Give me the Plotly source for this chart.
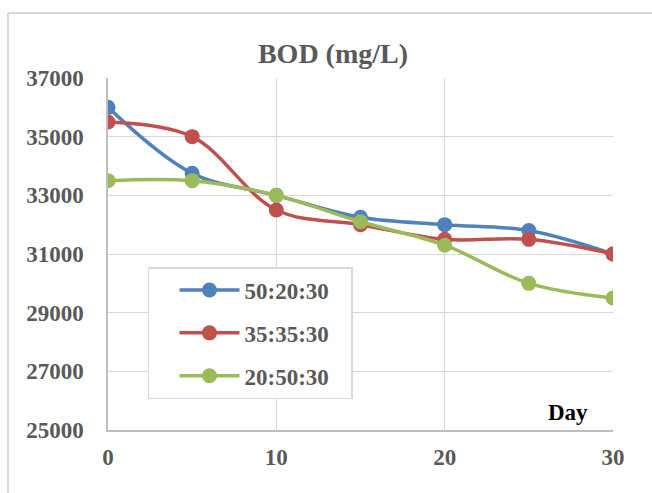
import plotly.graph_objects as go

# BOD over time for three mixing ratios
days = [0, 5, 10, 15, 20, 25, 30]
ratio_50_20_30 = [36000, 33750, 33000, 32250, 32000, 31800, 31000]
ratio_35_35_30 = [35500, 35000, 32500, 32000, 31500, 31500, 31000]
ratio_20_50_30 = [33500, 33500, 33000, 32100, 31300, 30000, 29500]

series_names = ["50:20:30", "35:35:30", "20:50:30"]
series_values = [ratio_50_20_30, ratio_35_35_30, ratio_20_50_30]
series_colors = ["#4F81BD", "#C0504D", "#9BBB59"]

x_ticks = [0, 10, 20, 30]
y_ticks = [25000, 27000, 29000, 31000, 33000, 35000, 37000]

FONT = "Times New Roman, Liberation Serif, serif"
GREY = "#595959"

fig = go.Figure()
for name, vals, color in zip(series_names, series_values, series_colors):
    fig.add_trace(go.Scatter(
        x=days, y=vals, name=f"<b>{name}</b>&nbsp;&nbsp;&nbsp;", legendgroup=name,
        mode="lines+markers",
        line=dict(color=color, width=3.5, shape="spline", smoothing=1),
        marker=dict(color=color, size=15),
    ))

# chart-area frame (left and top edges)
frame = dict(type="line", xref="paper", yref="paper",
             line=dict(color="#D9D9D9", width=2), layer="below")
fig.add_shape(x0=-0.198, x1=-0.198, y0=1.185, y1=-0.2, **frame)
fig.add_shape(x0=-0.198, x1=1.1, y0=1.185, y1=1.185, **frame)

fig.add_annotation(text="<b>Day</b>", x=0.911, y=0.051, xref="paper", yref="paper",
                   showarrow=False, xanchor="center", yanchor="middle",
                   font=dict(family=FONT, size=23, color="black"))

fig.update_layout(
    width=652, height=493,
    margin=dict(l=108, r=39, t=78, b=63),
    paper_bgcolor="white", plot_bgcolor="white",
    title=dict(text="<b>BOD (mg/L)</b>", x=0.4455, xref="paper", xanchor="center",
               y=1 - 53 / 493, yref="container", yanchor="middle",
               font=dict(family=FONT, size=28, color=GREY)),
    font=dict(family=FONT, size=23, color=GREY),
    xaxis=dict(range=[0, 30], tickvals=x_ticks, ticktext=[f"<b>{t}</b>" for t in x_ticks],
               showgrid=True, gridcolor="#D9D9D9", gridwidth=1,
               showline=True, linecolor="#BFBFBF", linewidth=1.5,
               zeroline=False, ticks="", ticklabelstandoff=6,
               tickfont=dict(family=FONT, size=23, color=GREY)),
    yaxis=dict(range=[25000, 37000], tickvals=y_ticks, ticktext=[f"<b>{t}</b>" for t in y_ticks],
               showgrid=True, gridcolor="#D9D9D9", gridwidth=1,
               showline=True, linecolor="#BFBFBF", linewidth=1.5,
               zeroline=False, ticks="", ticklabelstandoff=18,
               tickfont=dict(family=FONT, size=23, color=GREY)),
    legend=dict(x=0.0792, y=0.463, xanchor="left", yanchor="top",
                bgcolor="white", bordercolor="#D9D9D9", borderwidth=1.5,
                font=dict(family=FONT, size=23, color=GREY),
                itemwidth=60, tracegroupgap=10, traceorder="grouped",
                indentation=25),
    showlegend=True,
)

fig.write_html("out.html")
